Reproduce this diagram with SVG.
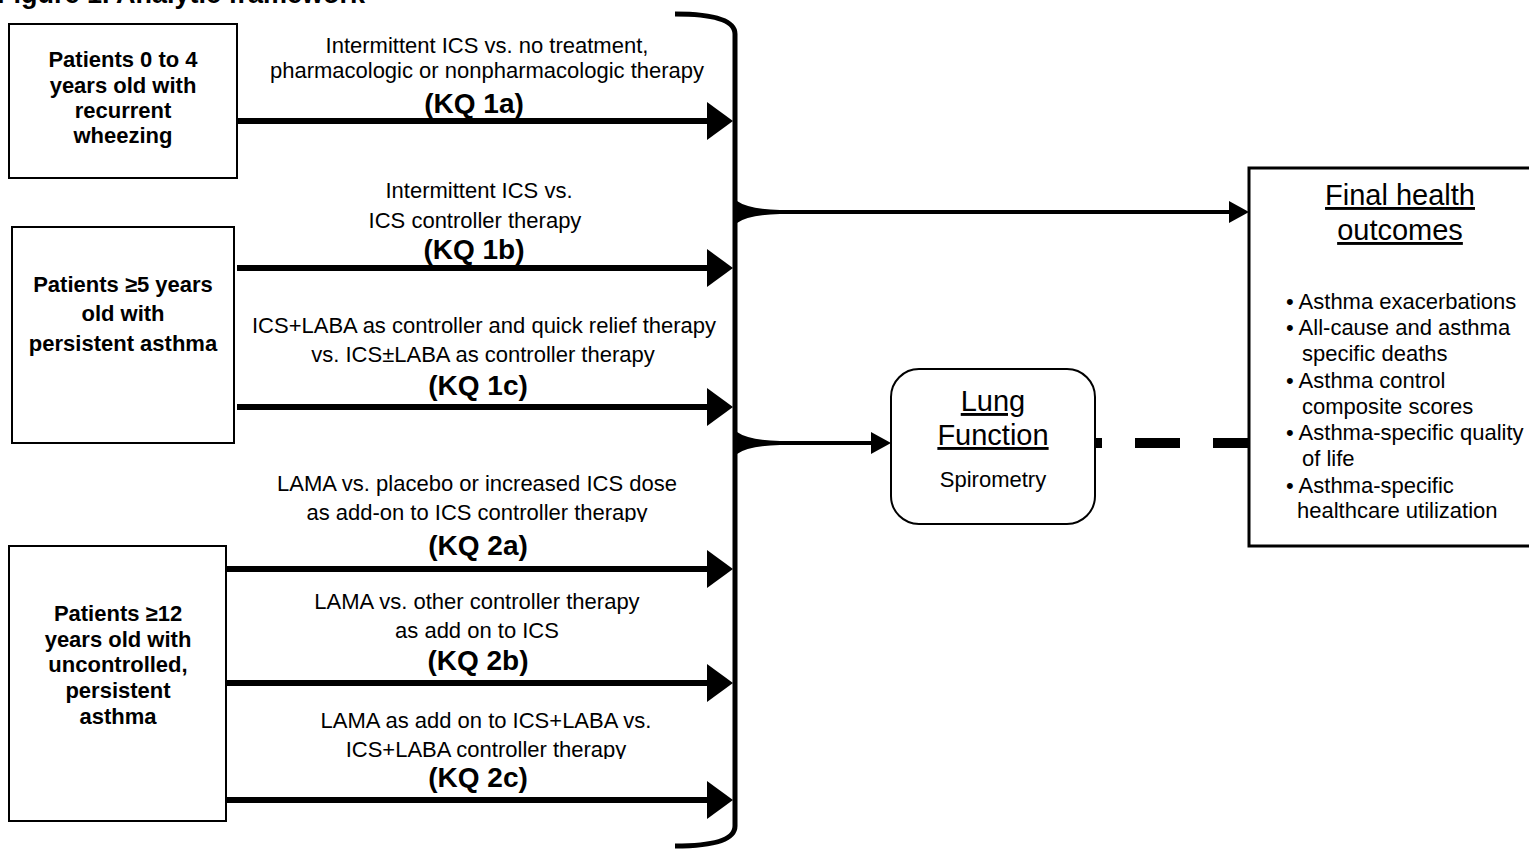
<svg xmlns="http://www.w3.org/2000/svg" width="1529" height="850" viewBox="0 0 1529 850">
<style>
text{font-family:"Liberation Sans",Arial,sans-serif;fill:#000}
.box{fill:#fff;stroke:#000;stroke-width:2}
.bt{font-weight:bold;font-size:22px;text-anchor:middle}
.lab{font-size:22px;text-anchor:middle}
.kq{font-weight:bold;font-size:28px;text-anchor:middle}
.hd{font-size:29px;text-anchor:middle;text-decoration:underline}
.bl{font-size:22px}
.arr{stroke:#000;stroke-width:6;fill:none}
</style>
<defs>
<clipPath id="c2a"><rect x="250" y="490" width="450" height="32"/></clipPath>
<clipPath id="c2c"><rect x="250" y="727" width="450" height="32"/></clipPath>
</defs>
<rect width="1529" height="850" fill="#fff"/>
<text x="-3" y="3" style="font-weight:bold;font-size:27px">Figure 1. Analytic framework</text>
<g id="n_p04">
<rect class="box" x="9" y="24" width="228" height="154"/>
<text class="bt" x="123" y="67">Patients 0 to 4</text>
<text class="bt" x="123" y="93">years old with</text>
<text class="bt" x="123" y="118">recurrent</text>
<text class="bt" x="123" y="143">wheezing</text>
</g>
<g id="n_p5">
<rect class="box" x="12" y="227" width="222" height="216"/>
<text class="bt" x="123" y="292">Patients ≥5 years</text>
<text class="bt" x="123" y="321">old with</text>
<text class="bt" x="123" y="351">persistent asthma</text>
</g>
<g id="n_p12">
<rect class="box" x="9" y="546" width="217" height="275"/>
<text class="bt" x="118" y="621">Patients ≥12</text>
<text class="bt" x="118" y="647">years old with</text>
<text class="bt" x="118" y="672">uncontrolled,</text>
<text class="bt" x="118" y="698">persistent</text>
<text class="bt" x="118" y="724">asthma</text>
</g>
<g id="n_lung">
<rect class="box" x="891" y="369" width="204" height="155" rx="28"/>
<text class="hd" x="993" y="411">Lung</text>
<text class="hd" x="993" y="445">Function</text>
<text class="lab" x="993" y="487">Spirometry</text>
</g>
<g id="n_final">
<rect x="1249" y="168" width="290" height="378" fill="#fff" stroke="#000" stroke-width="3"/>
<text class="hd" x="1400" y="205">Final health</text>
<text class="hd" x="1400" y="240">outcomes</text>
<text class="bl" x="1286" y="309">• Asthma exacerbations</text>
<text class="bl" x="1286" y="335">• All-cause and asthma</text>
<text class="bl" x="1302" y="361">specific deaths</text>
<text class="bl" x="1286" y="388">• Asthma control</text>
<text class="bl" x="1302" y="414">composite scores</text>
<text class="bl" x="1286" y="440">• Asthma-specific quality</text>
<text class="bl" x="1302" y="466">of life</text>
<text class="bl" x="1286" y="493">• Asthma-specific</text>
<text class="bl" x="1297" y="518">healthcare utilization</text>
</g>
<g id="labels">
<text class="lab" x="487" y="53">Intermittent ICS vs. no treatment,</text>
<text class="lab" x="487" y="78">pharmacologic or nonpharmacologic therapy</text>
<text class="kq" x="474" y="113">(KQ 1a)</text>
<text class="lab" x="479" y="198">Intermittent ICS vs.</text>
<text class="lab" x="475" y="228">ICS controller therapy</text>
<text class="kq" x="474" y="259">(KQ 1b)</text>
<text class="lab" x="484" y="333">ICS+LABA as controller and quick relief therapy</text>
<text class="lab" x="483" y="362">vs. ICS±LABA as controller therapy</text>
<text class="kq" x="478" y="395">(KQ 1c)</text>
<text class="lab" x="477" y="491">LAMA vs. placebo or increased ICS dose</text>
<text class="lab" x="477" y="520" clip-path="url(#c2a)">as add-on to ICS controller therapy</text>
<text class="kq" x="478" y="555">(KQ 2a)</text>
<text class="lab" x="477" y="609">LAMA vs. other controller therapy</text>
<text class="lab" x="477" y="638">as add on to ICS</text>
<text class="kq" x="478" y="670">(KQ 2b)</text>
<text class="lab" x="486" y="728">LAMA as add on to ICS+LABA vs.</text>
<text class="lab" x="486" y="757" clip-path="url(#c2c)">ICS+LABA controller therapy</text>
<text class="kq" x="478" y="787">(KQ 2c)</text>
</g>
<g id="connectors">
<path d="M675,14 Q735,14 735,34 L735,826 Q735,846 675,846" fill="none" stroke="#000" stroke-width="5"/>
<g fill="#000">
<line class="arr" x1="237" y1="121" x2="710" y2="121"/><polygon points="707,102 733,121 707,140"/>
<line class="arr" x1="237" y1="268" x2="710" y2="268"/><polygon points="707,249 733,268 707,287"/>
<line class="arr" x1="237" y1="407" x2="710" y2="407"/><polygon points="707,388 733,407 707,426"/>
<line class="arr" x1="226" y1="569" x2="710" y2="569"/><polygon points="707,550 733,569 707,588"/>
<line class="arr" x1="226" y1="683" x2="710" y2="683"/><polygon points="707,664 733,683 707,702"/>
<line class="arr" x1="226" y1="800" x2="710" y2="800"/><polygon points="707,781 733,800 707,819"/>
<path d="M737,201 Q748,209 780,210 L780,214 Q748,215 737,223 Z"/>
<line x1="770" y1="212" x2="1232" y2="212" stroke="#000" stroke-width="4"/>
<polygon points="1229,201 1249,212 1229,223"/>
<path d="M737,432 Q748,440 780,441 L780,445 Q748,446 737,454 Z"/>
<line x1="770" y1="443" x2="874" y2="443" stroke="#000" stroke-width="4"/>
<polygon points="871,432 891,443 871,454"/>
<line x1="1095" y1="443" x2="1248" y2="443" stroke="#000" stroke-width="10" stroke-dasharray="45 33" stroke-dashoffset="38"/>
</g>
</g>
</svg>
